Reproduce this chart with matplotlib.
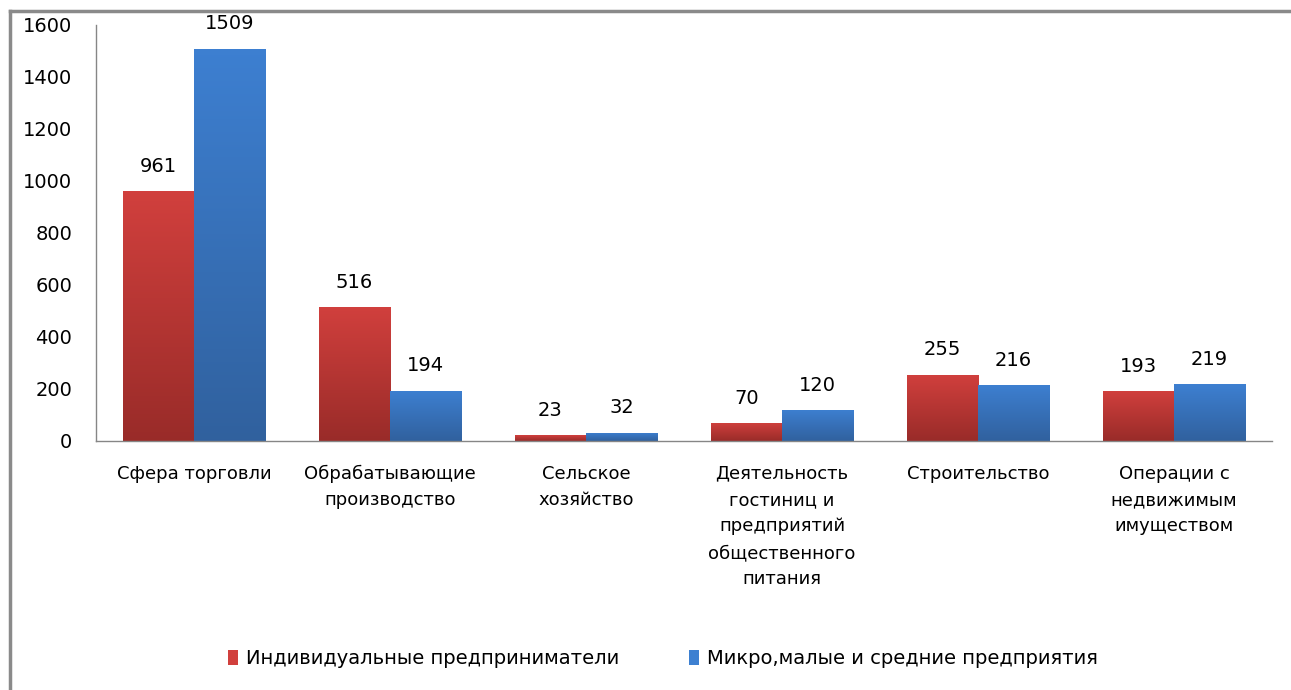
import numpy as np
import matplotlib.pyplot as plt
from matplotlib.lines import Line2D
from matplotlib.patches import Patch

categories = ['Сфера торговли', 'Обрабатывающие\nпроизводство', 'Сельское\nхозяйство',
              'Деятельность\nгостиниц и\nпредприятий\nобщественного\nпитания',
              'Строительство', 'Операции с\nнедвижимым\nимуществом']
ip_values = [961, 516, 23, 70, 255, 193]
msp_values = [1509, 194, 32, 120, 216, 219]
series_names = ['Индивидуальные предприниматели', 'Микро,малые и средние предприятия']

red_top, red_bottom = (0.82, 0.25, 0.24), (0.60, 0.17, 0.16)
blue_top, blue_bottom = (0.24, 0.50, 0.82), (0.19, 0.38, 0.62)


def gradient_bars(ax, bars, top, bottom):
    # vertical gradient, darker at the bottom
    grad = np.linspace(0, 1, 256)
    cols = np.zeros((256, 1, 3))
    for i in range(3):
        cols[:, 0, i] = bottom[i] + (top[i] - bottom[i]) * grad
    for b in bars:
        x, w, h = b.get_x(), b.get_width(), b.get_height()
        b.set_facecolor('none')
        b.set_edgecolor('none')
        im = ax.imshow(cols, extent=[x, x + w, 0, h], origin='lower',
                       aspect='auto', zorder=2)
        im.set_clip_path(b)


fig = plt.figure(figsize=(12.91, 6.9), dpi=100)
ax = fig.add_axes([96 / 1291, 1 - 441 / 690, (1272 - 96) / 1291, (441 - 25) / 690])

x = np.arange(len(categories))
w = 0.363
b1 = ax.bar(x - w / 2, ip_values, w, zorder=2)
b2 = ax.bar(x + w / 2, msp_values, w, zorder=2)
gradient_bars(ax, b1, red_top, red_bottom)
gradient_bars(ax, b2, blue_top, blue_bottom)

for bars, vals in ((b1, ip_values), (b2, msp_values)):
    for b, v in zip(bars, vals):
        ax.annotate(str(v), (b.get_x() + b.get_width() / 2, v),
                    xytext=(0, 11), textcoords='offset points',
                    ha='center', va='bottom', fontsize=14)

ax.set_xlim(-0.5, len(categories) - 0.5)
ax.set_ylim(0, 1600)
ax.set_yticks(range(0, 1601, 200))
ax.set_xticks(x)
ax.set_xticklabels(categories, fontsize=13, linespacing=1.6, va='top')
ax.tick_params(axis='y', length=0, labelsize=14, pad=17)
ax.tick_params(axis='x', length=0, pad=17)
for s in ('top', 'right'):
    ax.spines[s].set_visible(False)
for s in ('left', 'bottom'):
    ax.spines[s].set_color('#868686')
    ax.spines[s].set_linewidth(1)

# chart border (only top and left visible)
fig.add_artist(Line2D([10 / 1291, 1], [1 - 11 / 690, 1 - 11 / 690], color='#8a8a8a', lw=2.5))
fig.add_artist(Line2D([10 / 1291, 10 / 1291], [0, 1 - 11 / 690], color='#8a8a8a', lw=2.5))

handles = [Patch(facecolor=red_top), Patch(facecolor=blue_top)]
fig.legend(handles, series_names, loc='center', bbox_to_anchor=(663 / 1291, 1 - 659 / 690),
           ncol=2, frameon=False, fontsize=14, handlelength=0.5, handleheight=0.8,
           handletextpad=0.4, columnspacing=3.6)

fig.savefig('out.png', dpi=100)
